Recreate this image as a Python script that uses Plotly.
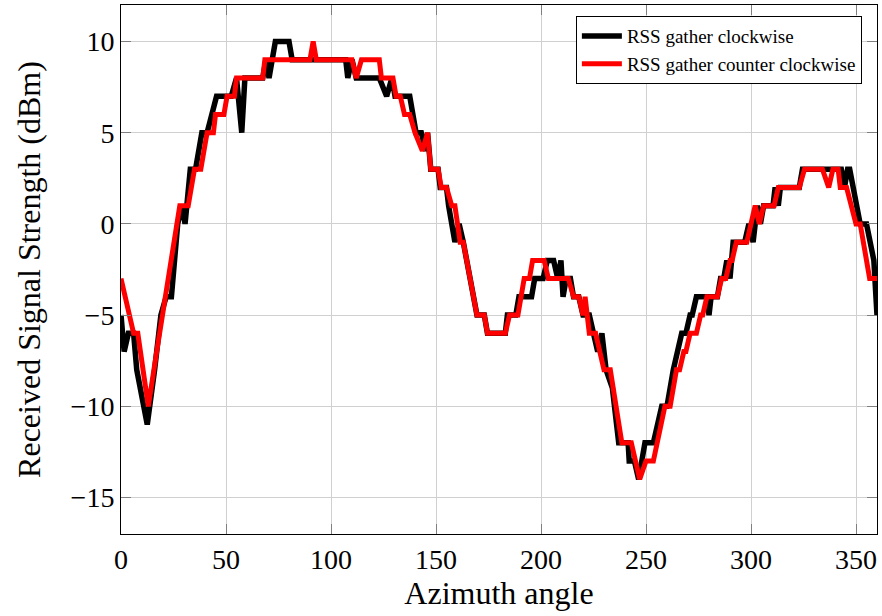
import plotly.graph_objects as go

# Azimuth angle (deg) and RSS (dBm), clockwise gather
cw_angle = [0, 1.5, 3.5, 6, 7.5, 12.5, 16, 19, 21.5, 24, 27, 29, 30.5, 33, 35.5, 37, 38.5, 41, 43, 45.5,
            52.5, 55, 57.5, 59, 67.5, 69, 70.5, 73.5, 80, 81.5, 107, 108, 110, 112, 123, 126.5, 129, 130.5,
            137.5, 139, 140.5, 143, 145, 146, 147.5, 151, 152, 155, 156, 159, 161, 163, 169.5, 173, 174.5,
            183, 184, 188, 189.5, 195.5, 197, 201, 203, 206, 208, 209.5, 210.5, 212, 214, 215.5, 218, 220,
            223, 225, 227, 229, 231, 234, 237, 241.5, 242, 244.5, 246.5, 249.5, 253.5, 257.5, 260, 263,
            265, 267, 269, 271, 272, 274, 279, 280, 281, 284, 285.5, 287, 288.5, 290, 291.5, 297, 299, 301,
            303, 304.5, 306, 310.5, 311.5, 313, 314, 323, 324.5, 343, 344.5, 346, 347, 352, 355, 358.5, 360]
cw_rss = [-5, -7, -6, -6, -8, -11, -8, -5, -4, -4, 0, 1, 0, 3, 3, 4, 5, 5, 6, 7,
          7, 8, 5, 8, 8, 9, 8, 10, 10, 9, 9, 8, 9, 8, 8, 7, 8, 7,
          7, 6, 5, 5, 4, 5, 3, 3, 2, 2, 1, -1, 0, -1, -5, -5, -6,
          -6, -5, -5, -4, -4, -3, -3, -2, -2, -3, -2, -4, -3, -3, -4, -4, -5,
          -5, -6, -7, -6, -8, -9, -12, -12, -13, -13, -14, -12, -12, -10, -10, -8,
          -7, -6, -6, -5, -5, -4, -4, -5, -4, -4, -3, -3, -2, -3, -1, -1, 0, -1,
          1, 0, 1, 1, 2, 1, 2, 2, 3, 3, 2, 3, 3, 0, 0, -2, -5]

# Counter clockwise gather
ccw_angle = [0, 6, 8, 13, 17, 21, 28, 32, 35, 38, 41, 44, 45, 49, 50.5, 54, 55, 67.5, 68.5, 90,
             91.5, 93, 110, 112, 114.5, 123, 124, 129.5, 131, 133, 135, 137.5, 140, 143.5, 146, 147.5,
             151, 152.5, 155, 157.5, 159, 161.5, 163, 169.5, 173, 174.5, 183, 185, 189, 192, 194.5, 196,
             201.5, 203.5, 213, 215.5, 218, 220, 221, 223, 226, 228, 230, 233, 238.5, 243, 247, 250,
             253.5, 259, 261.5, 264.5, 266, 268, 269, 271, 274, 276, 277, 279, 284, 286, 288, 290, 291,
             293, 298, 302, 304, 306, 311, 313, 323, 325.5, 334, 337, 339, 341.5, 342.5, 345.5, 350, 352,
             356.5, 360]
ccw_rss = [-3, -6, -6, -10, -7, -4, 1, 1, 3, 3, 5, 5, 6, 6, 7, 7, 8, 8, 9, 9,
           10, 9, 9, 8, 9, 9, 8, 8, 7, 7, 6, 6, 5, 4, 5, 3,
           3, 2, 2, 1, 1, -1, -1, -5, -5, -6, -6, -5, -5, -3, -3, -2,
           -2, -3, -3, -4, -4, -5, -4, -6, -6, -7, -8, -8, -12, -12, -14, -13,
           -13, -10, -10, -8, -8, -7, -7, -6, -6, -5, -5, -4, -4, -3, -3, -2, -2,
           -1, -1, 1, 0, 1, 1, 2, 2, 3, 3, 2, 3, 3, 2, 2, 0, 0,
           -3, -3]

x_ticks = [0, 50, 100, 150, 200, 250, 300, 350]
y_ticks = [-15, -10, -5, 0, 5, 10]

FONT = "Liberation Serif"

fig = go.Figure()
fig.add_trace(go.Scatter(x=cw_angle, y=cw_rss, mode="lines", name="RSS gather clockwise",
                         line=dict(color="black", width=5.5), legendgroup="a"))
fig.add_trace(go.Scatter(x=ccw_angle, y=ccw_rss, mode="lines", name="RSS gather counter clockwise",
                         line=dict(color="#ff0000", width=5), legendgroup="b"))

axis_common = dict(
    showline=True, linecolor="black", linewidth=1, mirror="allticks",
    ticks="inside", ticklen=10, tickwidth=1, tickcolor="#7f7f7f",
    showgrid=True, gridcolor="#d0d0d0", gridwidth=1, zeroline=False,
    tickfont=dict(family=FONT, size=28, color="black"),
)

fig.update_xaxes(range=[0, 360], tickvals=x_ticks,
                 title=dict(text="Azimuth angle", font=dict(family=FONT, size=32, color="black"), standoff=6),
                 **axis_common)
fig.update_yaxes(range=[-17, 12], tickvals=y_ticks,
                 title=dict(text="Received Signal Strength (dBm)", font=dict(family=FONT, size=32, color="black"), standoff=20),
                 **axis_common)

fig.update_layout(
    width=882, height=616,
    margin=dict(l=121, r=5, t=5, b=82, autoexpand=False),
    plot_bgcolor="white", paper_bgcolor="white",
    legend=dict(x=0.98, y=0.979, xanchor="right", yanchor="top",
                bgcolor="white", bordercolor="black", borderwidth=1,
                font=dict(family=FONT, size=19, color="black"),
                tracegroupgap=0, itemwidth=40),
)

fig.write_html("out.html")
